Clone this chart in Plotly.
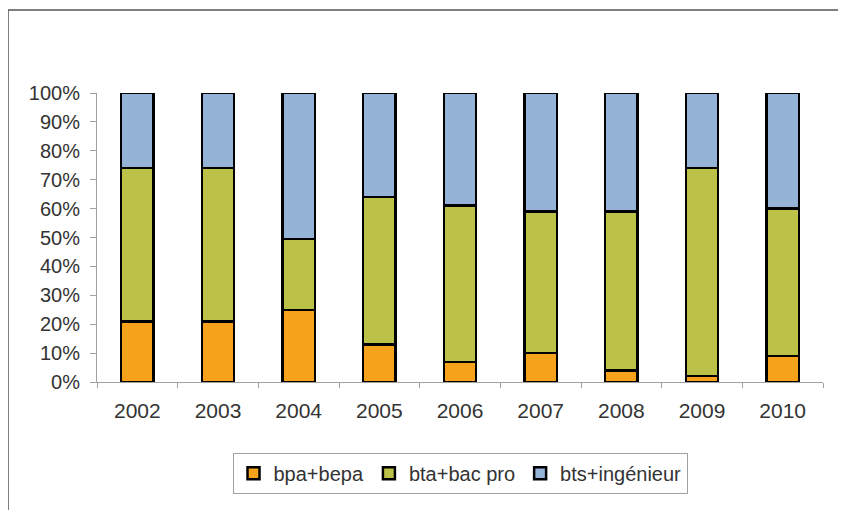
import plotly.graph_objects as go

years = ["2002", "2003", "2004", "2005", "2006", "2007", "2008", "2009", "2010"]
bpa_bepa = [21, 21, 25, 13, 7, 10, 4, 2, 9]
bta_bac_pro = [53, 53, 24.5, 51, 54, 49, 55, 72, 51]
bts_ingenieur = [26, 26, 50.5, 36, 39, 41, 41, 26, 40]

series = [
    ("bpa+bepa", bpa_bepa, "#F7A21B"),
    ("bta+bac pro", bta_bac_pro, "#BCC247"),
    ("bts+ingénieur", bts_ingenieur, "#95B3D7"),
]

fig = go.Figure()
for name, vals, col in series:
    fig.add_trace(go.Bar(
        x=years, y=vals, name=name,
        marker=dict(color=col, line=dict(color="#000000", width=2.5)),
        width=0.4,
    ))

fig.update_layout(
    width=838, height=502,
    margin=dict(l=89, r=23, t=85, b=128),
    barmode="stack",
    paper_bgcolor="white", plot_bgcolor="white",
    font=dict(family="Liberation Sans, Arial, sans-serif", size=20, color="#333333"),
    showlegend=True,
    legend=dict(
        orientation="h", x=0.5, xanchor="center", y=-0.245, yanchor="top",
        bordercolor="#A0A0A0", borderwidth=1, font=dict(size=20),
        traceorder="normal", itemwidth=30,
    ),
    xaxis=dict(
        showline=True, linecolor="#A0A0A0", linewidth=1,
        ticks="outside", tickson="boundaries", ticklen=5, tickcolor="#A0A0A0",
        showgrid=False, tickfont=dict(size=21), ticklabelstandoff=10,
    ),
    yaxis=dict(
        range=[0, 100], dtick=10, ticksuffix="%",
        showline=True, linecolor="#A0A0A0", linewidth=1,
        ticks="outside", ticklen=6, tickcolor="#A0A0A0",
        showgrid=False, zeroline=False, tickfont=dict(size=20),
        ticklabelstandoff=6,
    ),
    shapes=[dict(
        type="rect", xref="paper", yref="paper",
        x0=-0.1226, x1=1.0234, y0=-0.6, y1=1.287,
        line=dict(color="#555555", width=1.5), fillcolor="rgba(0,0,0,0)",
        layer="below",
    )],
)

fig.write_html("out.html")
